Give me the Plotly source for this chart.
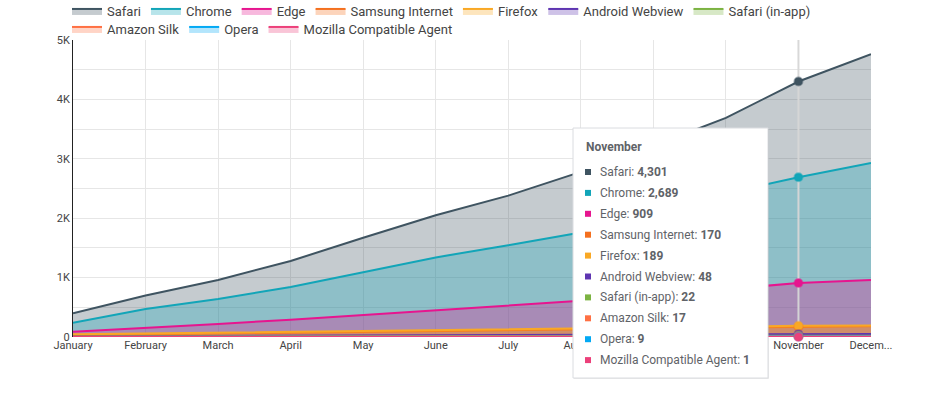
import plotly.graph_objects as go

months = ["January", "February", "March", "April", "May", "June", "July",
          "August", "September", "October", "November", "December"]
month_labels = ["January", "February", "March", "April", "May", "June", "July",
                "August", "September", "October", "November", "Decem..."]

series_names = ["Safari", "Chrome", "Edge", "Samsung Internet", "Firefox",
                "Android Webview", "Safari (in-app)", "Amazon Silk", "Opera",
                "Mozilla Compatible Agent"]

safari = [400, 700, 960, 1280, 1670, 2050, 2380, 2780, 3220, 3690, 4301, 4760]
chrome = [240, 470, 640, 840, 1090, 1340, 1545, 1760, 2060, 2420, 2689, 2930]
edge = [90, 150, 220, 290, 370, 450, 520, 610, 700, 800, 909, 960]
samsung = [30, 45, 60, 75, 90, 105, 115, 125, 140, 155, 170, 180]
firefox = [45, 60, 75, 90, 105, 120, 130, 140, 155, 170, 189, 195]
android = [10, 14, 18, 22, 26, 30, 33, 36, 40, 44, 48, 50]
safari_inapp = [5, 7, 9, 10, 12, 14, 15, 17, 18, 20, 22, 23]
amazon_silk = [4, 5, 7, 8, 9, 11, 12, 13, 14, 15, 17, 18]
opera = [2, 3, 3, 4, 5, 5, 6, 7, 7, 8, 9, 9]
mozilla = [0, 0, 1, 0, 1, 1, 0, 1, 1, 1, 1, 1]

values = [safari, chrome, edge, samsung, firefox, android, safari_inapp,
          amazon_silk, opera, mozilla]
colors = ["#3f5461", "#12a5b8", "#e6158f", "#f4701f", "#f9a825", "#5e35b1",
          "#7cb342", "#ff7043", "#03a9f4", "#ec407a"]

y_ticks = [0, 1000, 2000, 3000, 4000, 5000]
y_tick_labels = ["0", "1K", "2K", "3K", "4K", "5K"]

hover_idx = 10

W, H = 952, 415
L, R, T, B = 73, 871, 40, 337


def hexa(c, a):
    c = c.lstrip("#")
    r, g, b = int(c[0:2], 16), int(c[2:4], 16), int(c[4:6], 16)
    return f"rgba({r},{g},{b},{a})"


def px_x(p):
    return (p - L) / (R - L)


def px_y(p):
    return (B - p) / (B - T)


fig = go.Figure()
xs = list(range(len(months)))
for i, (name, vals, col) in enumerate(zip(series_names, values, colors)):
    fig.add_trace(go.Scatter(
        x=xs, y=vals, name=name, mode="lines",
        line=dict(color=col, width=2),
        fill="tozeroy", fillcolor=hexa(col, 0.3),
        hoverinfo="skip",
        legend="legend" if i < 7 else "legend2",
    ))

# hover vertical line (above fills, below markers)
fig.add_trace(go.Scatter(
    x=[hover_idx, hover_idx], y=[0, 5000], mode="lines", showlegend=False,
    line=dict(color="rgba(215,215,215,0.95)", width=2), hoverinfo="skip",
))

for name, vals, col in zip(series_names, values, colors):
    fig.add_trace(go.Scatter(
        x=[hover_idx], y=[vals[hover_idx]], mode="markers", showlegend=False,
        marker=dict(color=col, size=8, line=dict(color=hexa(col, 0.5), width=2)),
        hoverinfo="skip", cliponaxis=False,
    ))

# tooltip box
bx0, bx1, by0, by1 = 573, 768, 128, 378
fig.add_shape(type="rect", xref="paper", yref="paper",
              x0=px_x(bx0 + 1), x1=px_x(bx1 + 1), y0=px_y(by1 + 1), y1=px_y(by0 + 1),
              line=dict(width=0), fillcolor="rgba(0,0,0,0.08)", layer="above")
fig.add_shape(type="rect", xref="paper", yref="paper",
              x0=px_x(bx0), x1=px_x(bx1), y0=px_y(by1), y1=px_y(by0),
              line=dict(color="#dadce0", width=1), fillcolor="white", layer="above")

annotations = [dict(
    xref="paper", yref="paper", x=px_x(584), y=px_y(147),
    xanchor="left", yanchor="middle", showarrow=False,
    text=f"<b>{months[hover_idx]}</b>",
    font=dict(family="Roboto", size=12, color="#5f6368"),
)]
row_y0, row_dy = 172, 20.9
for i, (name, vals, col) in enumerate(zip(series_names, values, colors)):
    yy = row_y0 + i * row_dy
    fig.add_shape(type="rect", xref="paper", yref="paper",
                  x0=px_x(585), x1=px_x(591), y0=px_y(yy + 3), y1=px_y(yy - 3),
                  line=dict(width=0), fillcolor=col, layer="above")
    annotations.append(dict(
        xref="paper", yref="paper", x=px_x(598), y=px_y(yy),
        xanchor="left", yanchor="middle", showarrow=False,
        text=f"{name}: <b>{vals[hover_idx]:,}</b>",
        font=dict(family="Roboto", size=12, color="#5f6368"),
    ))

legend_common = dict(orientation="h", xref="container", yref="container",
                     x=67 / W, xanchor="left", yanchor="middle",
                     font=dict(family="Roboto", size=13, color="#444"),
                     itemwidth=30, bgcolor="rgba(0,0,0,0)", borderwidth=0)

fig.update_layout(
    width=W, height=H,
    margin=dict(l=L, r=W - R, t=T, b=H - B, autoexpand=False),
    plot_bgcolor="white", paper_bgcolor="white",
    font=dict(family="Roboto", size=11, color="#444"),
    showlegend=True,
    legend=dict(**legend_common, y=1 - 11 / H),
    legend2=dict(**legend_common, y=1 - 29 / H),
    annotations=annotations,
    xaxis=dict(range=[0, 11], tickmode="array", tickvals=xs, ticktext=month_labels,
               showgrid=True, gridcolor="#e6e6e6", zeroline=False, showline=False,
               ticks="", tickfont=dict(size=11, color="#444")),
    yaxis=dict(range=[0, 5000], tickmode="array", tickvals=y_ticks,
               ticktext=y_tick_labels, showgrid=True, gridcolor="#e6e6e6",
               minor=dict(dtick=500, showgrid=True, gridcolor="#e6e6e6"),
               zeroline=False, showline=True, linecolor="#222", linewidth=1,
               ticks="", tickfont=dict(size=11, color="#444")),
)

fig.write_html("out.html")
